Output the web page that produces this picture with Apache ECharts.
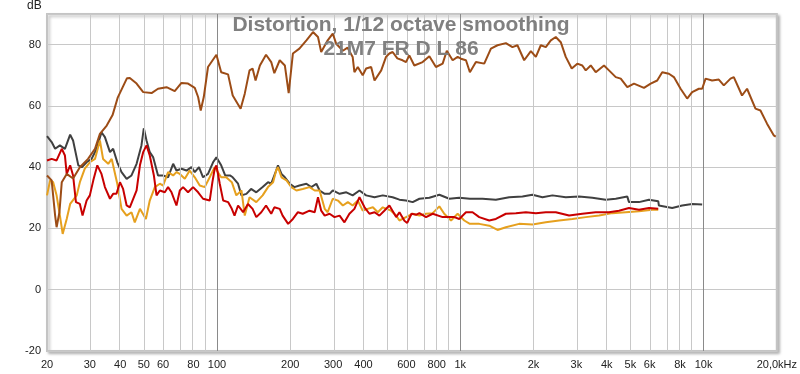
<!DOCTYPE html>
<html>
<head>
<meta charset="utf-8">
<script src="https://cdn.jsdelivr.net/npm/echarts@6/dist/echarts.min.js"></script>
<style>html,body{margin:0;padding:0;background:#fff}#c{width:800px;height:374px}</style>
</head>
<body>
<div id="c"></div>
<script>
const titleLine1 = 'Distortion, 1/12 octave smoothing';
const titleLine2 = '21M7 FR D L 86';
const tickFreqs = [20,30,40,50,60,80,100,200,300,400,600,800,1000,2000,3000,4000,5000,6000,8000,10000,20000];
const tickLabels = ['20','30','40','50','60','80','100','200','300','400','600','800','1k','2k','3k','4k','5k','6k','8k','10k','20,0kHz'];
const gridFreqs = [30,40,50,60,70,80,90,100,200,300,400,500,600,700,800,900,1000,2000,3000,4000,5000,6000,7000,8000,9000,10000];
const majorFreqs = [100,1000,10000];

const fundamental = [[20,37.3],[20.9,35.7],[21.6,24.2],[21.9,20.4],[22.5,25.3],[23.0,35.1],[24.1,37.8],[25.6,36.3],[27.3,40],[29.5,42.7],[31.5,46],[33.0,50.9],[35.2,53.6],[37.2,57],[39.1,62.8],[42.6,69],[43.8,69.1],[46.7,67.3],[49.7,64.5],[53.8,64.2],[57.2,65.6],[62.0,66.1],[67.0,64.8],[71.4,67.5],[76.0,67.3],[81.0,65.9],[83.6,62.9],[85.7,58.5],[88.2,62.9],[91.8,72.7],[99.4,76.7],[104,71],[111,70.3],[116,63.4],[125,59.1],[130,64],[136,71.6],[140,72.2],[144,68.3],[150,73.2],[159,76.7],[167,74.3],[172,70.7],[181,74.9],[190,73.2],[197,64.2],[205,77.1],[218,78.7],[233,81.4],[248,84.1],[260,82.5],[268,77.6],[285,81.4],[299,83.6],[309,80.3],[329,78],[344,79],[361,76],[367,71],[379,72.7],[397,70],[410,72.2],[430,72.7],[444,68.3],[451,67.8],[473,71.6],[495,76],[511,77.1],[527,77.6],[551,75.5],[579,74.9],[598,74.3],[617,76.5],[647,73.2],[700,74.3],[746,76.2],[794,72.7],[846,73.8],[880,78],[930,74.9],[975,76],[1006,75.4],[1055,74.9],[1095,71],[1159,74.3],[1254,73.8],[1336,78.7],[1422,79.8],[1539,80.5],[1638,79.2],[1717,79.8],[1830,74.9],[1950,77.9],[2044,76],[2142,79.8],[2246,79.2],[2355,81.4],[2468,82.5],[2588,80.8],[2713,76],[2871,72.2],[3027,73.8],[3173,73.2],[3278,71.6],[3436,73.2],[3602,71],[3896,73.2],[4084,71.6],[4355,69.4],[4565,68.9],[4858,66.1],[5175,67.3],[5687,65.9],[6060,67.3],[6447,68.3],[6760,71],[7202,70.5],[7550,69.4],[8044,65.6],[8560,62.4],[8974,64.5],[9562,65.6],[9866,65.6],[10190,68.9],[10840,68.3],[11550,68.6],[12110,66.7],[12900,68.9],[13310,69.4],[14390,63.4],[15090,65.6],[16340,59.1],[17130,58.5],[18230,54.2],[19420,50.4],[19800,50]];

const totalDist = [[20,50.1],[20.9,48.2],[21.6,46],[22.6,47.1],[23.7,46],[24.9,50.6],[25.6,48.7],[26.9,40.6],[27.8,40],[29.1,41.6],[30.5,42.7],[32.0,46],[33.5,51.4],[34.6,49.8],[36.3,44.9],[37.4,46],[38.9,41.6],[40.5,38.4],[42.5,36.2],[44.5,37.3],[46.7,41.1],[48.9,47.1],[50.0,52.7],[51.3,48.7],[52.9,44.9],[54.6,43.3],[57.2,37.3],[60.0,37.3],[62.9,36.7],[66.0,41.1],[68.1,38.9],[71.4,39.5],[74.9,38.9],[78.5,40],[81.0,38.4],[84.3,40],[87.6,36.7],[91.8,37.8],[96.3,41.6],[99.4,43.2],[104,40.6],[108,37.3],[113,37.3],[116,36.7],[122,34.6],[126,30.8],[132,31.3],[138,32.9],[145,31.8],[154,33.5],[162,35.1],[167,34.6],[175,38.9],[178,40.6],[184,37.8],[190,36.7],[199,34.6],[208,33.5],[218,34],[233,34.6],[244,33.5],[256,34.6],[264,32.4],[277,31.3],[290,31.3],[299,32.4],[319,31.3],[340,31.8],[361,30.8],[385,32.4],[410,30.8],[444,30.2],[480,30.8],[527,30.2],[562,29.4],[598,29.1],[637,28.6],[679,29.7],[746,30],[820,31],[901,29.7],[990,30],[1095,29.7],[1234,29.7],[1400,29.4],[1588,30.2],[1801,30.4],[1979,31],[2176,30.2],[2392,30.8],[2713,30.2],[3076,30.4],[3489,30],[3961,29.4],[4355,29.7],[4858,30.4],[4935,28.6],[5426,28.6],[5964,29.4],[6510,28.9],[6550,27.5],[7430,26.7],[8166,27.5],[8974,28],[9866,27.8]];

const harmonic2 = [[20,42.2],[20.9,42.7],[21.9,42.2],[23.0,46],[23.7,43.8],[24.1,37.8],[24.9,40.6],[25.6,37.3],[26.3,28.6],[27.3,28],[28.0,24.2],[29.1,29.1],[30.0,30.8],[31.0,35.7],[32.2,40.6],[33.5,37.8],[34.6,33.5],[36.3,29.7],[37.4,31.3],[38.6,31.3],[39.9,35.1],[41.1,32.9],[42.5,27.5],[43.8,26.9],[46.7,32.4],[48.2,40.6],[49.7,44.9],[51.3,47.1],[52.9,43.8],[55.0,37.3],[56.4,30.8],[58.2,32.4],[61.0,31.8],[62.9,33.5],[65.0,31.8],[68.1,27.5],[70.3,32.4],[72.5,33.5],[76.0,31.8],[79.7,33.5],[83.6,31.8],[87.6,29.7],[93.3,29.1],[95.7,35.1],[97.8,39.5],[99.4,40.6],[102.6,34.6],[106,29.1],[111,28.6],[115,26.4],[118,24.2],[122,27.5],[128,25.3],[134,28],[140,26.4],[145,23.7],[152,25.3],[159,27.5],[167,24.8],[172,26.9],[181,26.4],[186,24.2],[196,21.5],[205,23.1],[215,25.3],[225,24.8],[240,25.8],[252,25.3],[260,30.2],[268,25.8],[277,24.2],[290,24.8],[304,23.7],[319,24.2],[334,22],[350,24.8],[367,26.4],[385,30.2],[404,26.9],[423,24.8],[444,25.3],[465,24.2],[487,25.8],[511,27.5],[545,23.7],[562,25.3],[589,22.5],[605,21.8],[630,24.8],[660,24.5],[679,25],[723,23.7],[770,24.8],[846,23.7],[945,23.7],[990,23.1],[1055,25.3],[1123,25.3],[1196,23.7],[1315,22.6],[1400,23.1],[1539,24.8],[1692,25],[1860,25.3],[2044,25],[2246,25.3],[2468,25.3],[2800,24.2],[3173,24.8],[3602,25.3],[4084,25.3],[4490,25.8],[4935,26.7],[5426,26.1],[5964,26.7],[6510,26.4]];

const harmonic3 = [[20,30.8],[20.6,35.7],[21.2,35.1],[21.9,30.8],[22.6,24.2],[23.2,18.2],[24.1,23.1],[24.9,28],[26.5,30.8],[27.3,35.1],[28.6,39.5],[30.0,41.6],[31.5,42.7],[33.0,48.7],[34.0,42.7],[35.7,41.1],[36.9,42.7],[38.9,34.6],[40.5,26.4],[42.5,24.2],[44.5,25.3],[45.9,22],[48.2,26.4],[51.0,23.1],[52.9,29.1],[55.5,33.5],[58.2,34.6],[60.0,34],[62.9,38.4],[66.0,37.3],[68.1,38.4],[70.3,37.8],[73.7,36.2],[77.2,38.9],[81.0,36.7],[84.9,34],[89.0,33.5],[93.3,36.7],[97.8,40],[99.4,39.5],[104,36.7],[109,36.7],[115,35.1],[120,30.8],[126,32.4],[130,24.2],[136,30.2],[145,28.6],[154,30.8],[162,33.5],[170,35.1],[175,38.9],[178,40],[184,36.7],[193,35.7],[202,33.5],[212,32.4],[225,32.9],[240,33.5],[252,32.4],[264,32.4],[277,26.4],[285,25.3],[299,29.7],[314,29.1],[329,27.5],[345,28.6],[361,27.5],[379,29.1],[397,25.8],[416,26.4],[437,26.9],[458,25.3],[480,26.9],[519,25.8],[545,24.2],[562,22.6],[598,23.7],[637,24.8],[679,24.2],[723,24.8],[770,25],[820,27.2],[859,24.8],[916,22.6],[975,24.8],[1038,22.6],[1095,21.5],[1196,21.5],[1315,20.9],[1422,19.5],[1539,20.4],[1746,21.5],[1979,21.3],[2246,22],[2547,22.6],[2888,23.1],[3278,23.7],[3718,24.2],[4216,25],[4783,25.3],[5426,25.6],[6152,26.1],[6510,26.1]];

const toLog = arr => arr.map(p => [Math.log10(p[0]), p[1]]);
const chart = echarts.init(document.getElementById('c'), null, {renderer: 'canvas'});
const FONT = 'Liberation Sans, Arial, sans-serif';

function mkSeries(name, data, color, z) {
  return {name, type: 'line', data: toLog(data), showSymbol: false, symbol: 'none',
    lineStyle: {color, width: 2}, z, animation: false, silent: true};
}

chart.setOption({
  animation: false,
  grid: {left: 47, right: 22, top: 14, bottom: 23, show: true, backgroundColor: '#fff',
    borderColor: '#c4c4c4', borderWidth: 2, shadowColor: 'rgba(0,0,0,0.25)', shadowBlur: 3, shadowOffsetX: 2, shadowOffsetY: 2},
  xAxis: {type: 'value', min: Math.log10(20), max: Math.log10(20000),
    axisLine: {show: false}, axisTick: {show: false}, splitLine: {show: false},
    axisLabel: {customValues: tickFreqs.map(f => Math.log10(f)), color: '#222', fontSize: 11, fontFamily: FONT, margin: 8,
      formatter: v => { let bi = 0, bd = 1e9; tickFreqs.forEach((f, i) => { const d = Math.abs(Math.log10(f) - v); if (d < bd) { bd = d; bi = i; } }); return tickLabels[bi]; }}},
  yAxis: {type: 'value', min: -20, max: 90, interval: 20,
    axisLine: {show: false}, axisTick: {show: false},
    splitLine: {show: true, lineStyle: {color: '#c8c8c8', width: 1}},
    axisLabel: {color: '#222', fontSize: 11, fontFamily: FONT, margin: 6, formatter: v => (v > 85 ? '' : String(v))}},
  graphic: [
    {type: 'text', left: 27, top: 0, style: {text: 'dB', fontSize: 12, fontFamily: FONT, fill: '#222'}},
    {type: 'text', x: 401, y: 25.5, z: 100, style: {text: titleLine1, font: 'bold 21px ' + FONT, fill: '#808080', align: 'center', verticalAlign: 'middle'}},
    {type: 'text', x: 401, y: 49, z: 100, style: {text: titleLine2, font: 'bold 21px ' + FONT, fill: '#808080', align: 'center', verticalAlign: 'middle'}}
  ],
  series: [
    {type: 'line', data: [[Math.log10(20), -20]], symbol: 'none', lineStyle: {opacity: 0}, z: 1, silent: true,
      markLine: {silent: true, symbol: ['none', 'none'], label: {show: false}, animation: false,
        data: gridFreqs.map(f => ({xAxis: Math.log10(f), lineStyle: {type: 'solid', width: 1,
          color: majorFreqs.includes(f) ? '#8a8a8a' : '#c8c8c8'}}))}},
    mkSeries('Total', totalDist, '#404040', 3),
    mkSeries('H3', harmonic3, '#e6a01e', 4),
    mkSeries('H2', harmonic2, '#c80000', 5),
    mkSeries('Fundamental', fundamental, '#9c4c16', 6)
  ]
});
</script>
</body>
</html>
